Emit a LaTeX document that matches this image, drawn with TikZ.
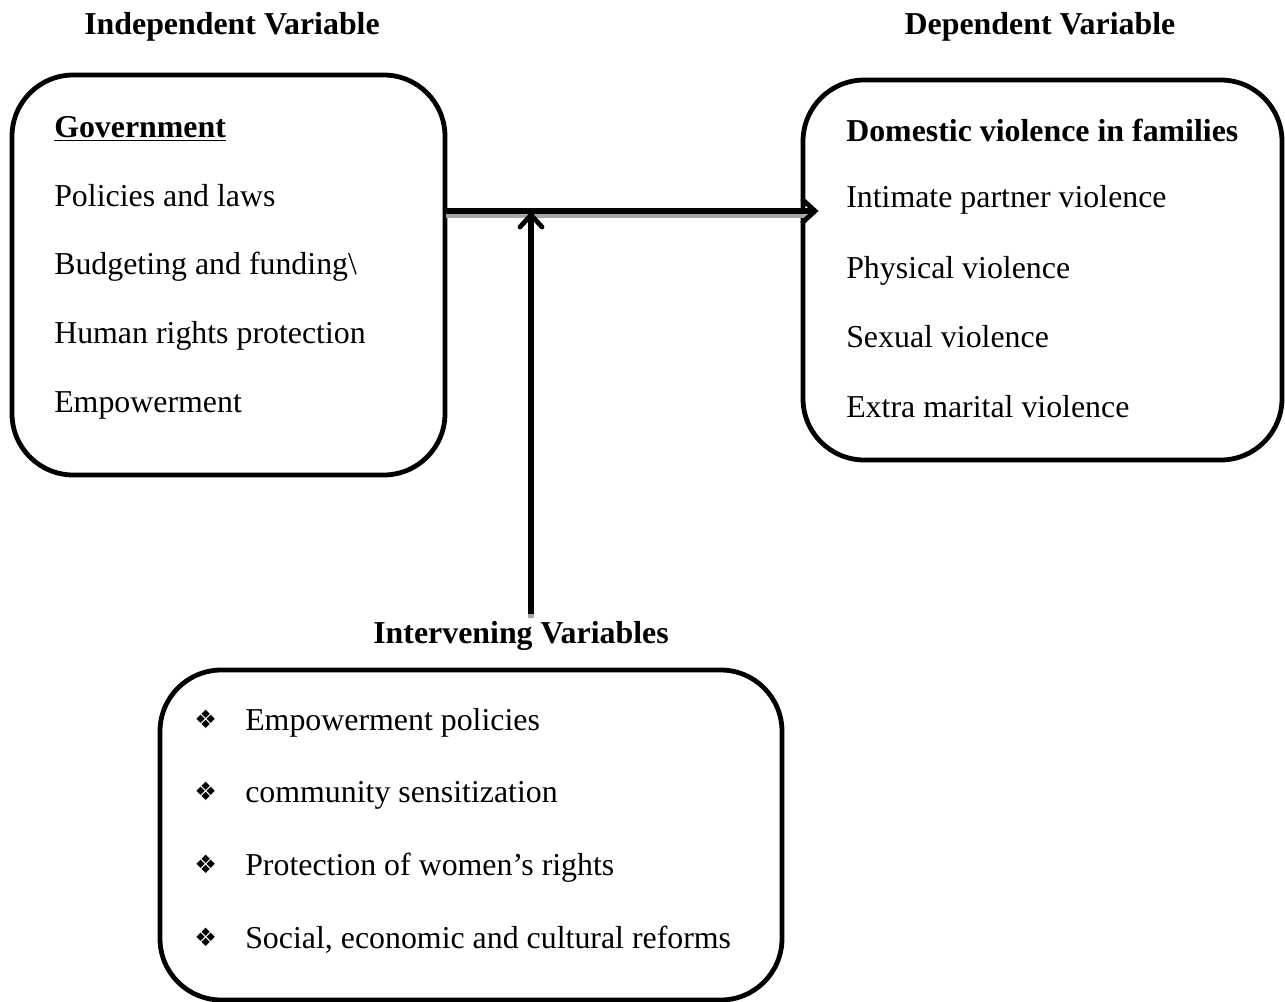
\documentclass[tikz,border=0pt]{standalone}
\usepackage{fontspec}
\setmainfont{Liberation Serif}
\newfontfamily\symfont{DejaVu Sans}
\begin{document}
\begin{tikzpicture}[x=0.75pt,y=-0.75pt,
  box/.style={draw=black,line width=3.6pt,rounded corners=46pt,inner sep=0pt},
  txt/.style={anchor=base west,inner sep=0pt,font=\fontsize{23.9}{28}\selectfont},
  hdr/.style={anchor=base,inner sep=0pt,font=\fontsize{23.9}{28}\selectfont\bfseries},
  shaft/.style={draw=black,line width=3.8pt},
  barb/.style={draw=black,line width=3.6pt,line cap=round,line join=miter},
  shad/.style={draw=black!35,line width=3.8pt}]
\useasboundingbox (0,0) rectangle (1285,1002);
% boxes
\draw[box] (12,75) rectangle (445,475);
\draw[box] (803,80) rectangle (1282,460);
\draw[box] (160,670) rectangle (782,1000);
\coordinate (govE) at (445,211);
\coordinate (tipH) at (815,211);
\coordinate (stemB) at (531,614);
\coordinate (stemT) at (531,215);
% headers
\node[hdr] (h1) at (232,35) {Independent Variable};
\node[hdr] (h2) at (1040,35) {Dependent Variable};
\node[hdr] (h3) at (521,643) {Intervening Variables};
% left box
\node[txt,font=\fontsize{23.9}{28}\selectfont\bfseries] (g0) at (54,138) {\underline{Government}};
\node[txt] (g1) at (54,206) {Policies and laws};
\node[txt] (g2) at (54,274) {Budgeting and funding\textbackslash};
\node[txt] (g3) at (54,343) {Human rights protection};
\node[txt] (g4) at (54,412) {Empowerment};
% right box
\node[txt,font=\fontsize{23.9}{28}\selectfont\bfseries] (d0) at (846,142) {Domestic violence in families};
\node[txt] (d1) at (846,208) {Intimate partner violence};
\node[txt] (d2) at (846,278) {Physical violence};
\node[txt] (d3) at (846,347) {Sexual violence};
\node[txt] (d4) at (846,417) {Extra marital violence};
% bottom box
\foreach \y/\t [count=\i] in {730/Empowerment policies,802/community sensitization,875/Protection of women’s rights,948/{Social, economic and cultural reforms}}{
  \node[txt,font=\fontsize{19}{22}\selectfont\symfont] (b\i) at (194,\y-2) {❖};
  \node[txt] (i\i) at (245,\y) {\t};
}
% arrow shadows
\draw[shad] ([shift={(1,4)}]govE) -- ([shift={(-8,4)}]tipH);
\draw[shad] ([shift={(0,4)}]stemB) -- ([shift={(0,10)}]stemT);
% arrows: shafts and barbs
\draw[shaft] (govE) -- ([xshift=-3]tipH);
\draw[barb] ([shift={(-12,-11)}]tipH) -- (tipH) -- ([shift={(-12,11)}]tipH);
\draw[shaft] (stemB) -- ([yshift=3]stemT);
\draw[barb] ([shift={(-11,12)}]stemT) -- (stemT) -- ([shift={(11,12)}]stemT);
\end{tikzpicture}
\end{document}
